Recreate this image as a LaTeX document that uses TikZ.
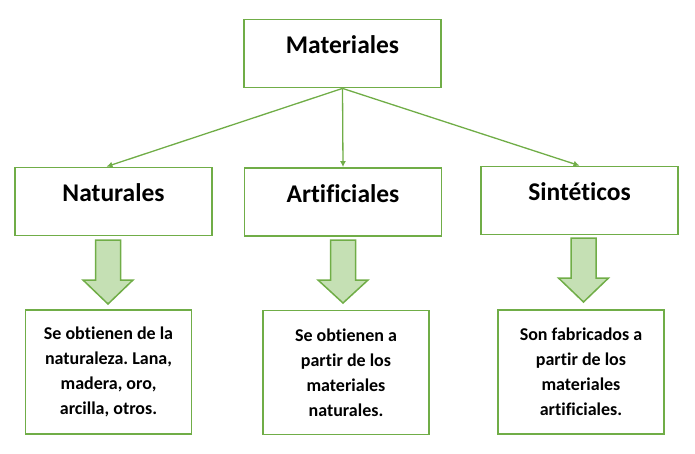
\documentclass[tikz,border=0pt]{standalone}
\usepackage{fontspec}
\setmainfont[Ligatures=NoCommon]{Carlito}
\frenchspacing
\usetikzlibrary{arrows.meta,calc}
\definecolor{gline}{HTML}{70AD47}
\definecolor{gfill}{HTML}{C5E0B4}
\tikzset{
  topbox/.style={draw=gline, line width=1.8pt, fill=white, minimum width=197pt, minimum height=68pt, inner sep=0pt, text height=10pt, text depth=10pt, font=\bfseries\fontsize{25.5}{30}\selectfont},
  descbox/.style={draw=gline, line width=1.8pt, fill=white, minimum width=166pt, minimum height=124pt, inner sep=0pt, align=center, font=\bfseries\fontsize{18}{25}\selectfont},
  conn/.style={draw=gline, line width=1.3pt, -{Latex[length=6pt,width=6pt]}},
  blockarrow/.style={draw=gline, line width=1.5pt, fill=gfill, line join=miter}
}
\begin{document}
\begin{tikzpicture}[x=1pt,y=-1pt]
\useasboundingbox (0,0) rectangle (695,453);
\node[topbox] (mat) at (342.5,53.5) {Materiales};
\node[topbox] (nat) at (113.5,201.5) {Naturales};
\node[topbox] (art) at (343,202) {Artificiales};
\node[topbox] (sin) at (579.5,200.5) {Sintéticos};
\node[descbox] (natd) at (108.5,372) {Se obtienen de la\\naturaleza. Lana,\\madera, oro,\\arcilla, otros.};
\node[descbox] (artd) at (346,372.5) {Se obtienen a\\partir de los\\materiales\\naturales.};
\node[descbox] (sind) at (581,372) {Son fabricados a\\partir de los\\materiales\\artificiales.};
\draw[conn] (mat.south) -- ($(nat.north)+(-7,0)$);
\draw[conn] (mat.south) -- (art.north);
\draw[conn] (mat.south) -- (sin.north);
\foreach \cx/\ty/\by/\tipy in {108/240/280/304, 343/240/280/303, 583.5/238/278/302}{
  \draw[blockarrow] (\cx-12.5,\ty) -- (\cx+12.5,\ty) -- (\cx+12.5,\by) -- (\cx+25,\by) -- (\cx,\tipy) -- (\cx-25,\by) -- (\cx-12.5,\by) -- cycle;
}
\end{tikzpicture}
\end{document}
